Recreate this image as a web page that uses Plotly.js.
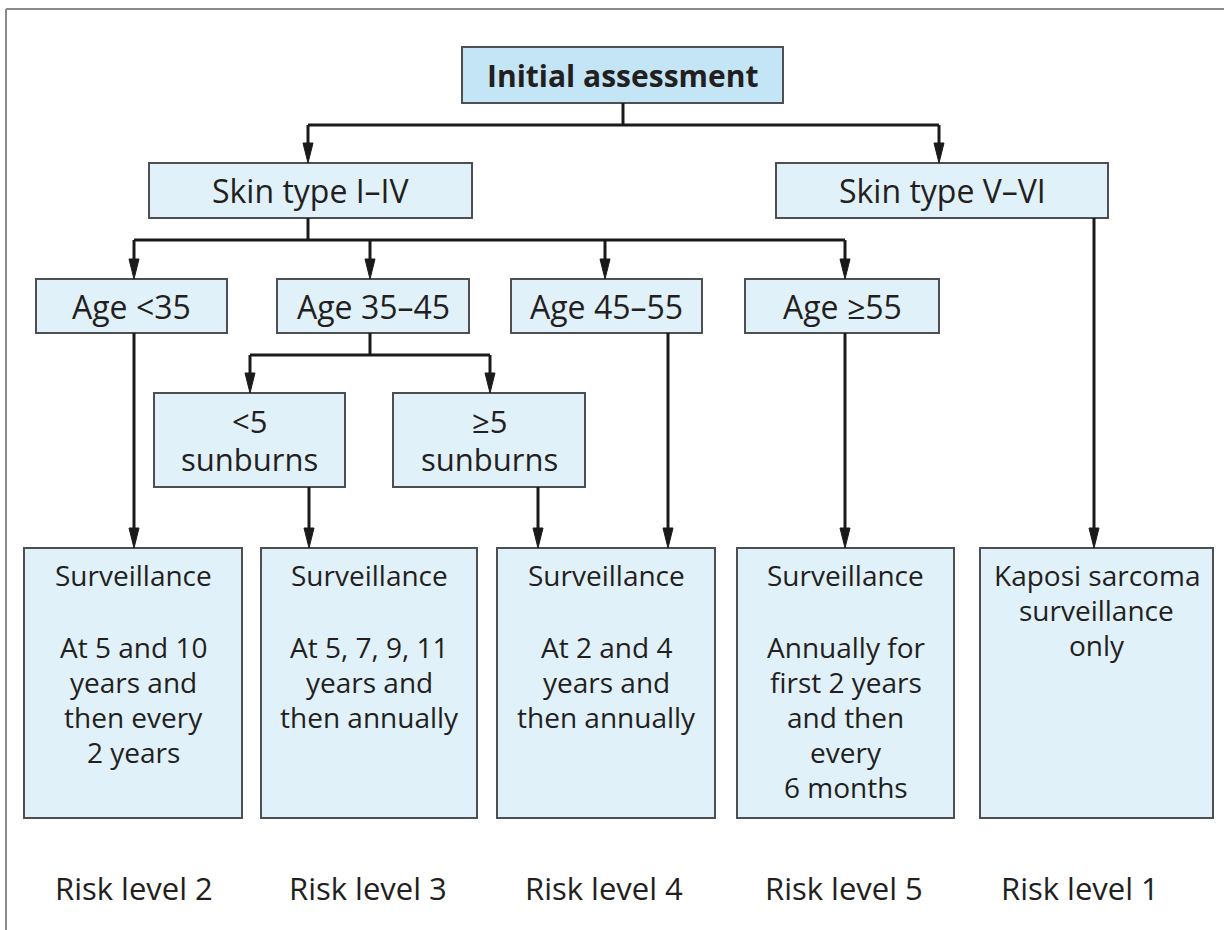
<!DOCTYPE html>
<html>
<head>
<meta charset="utf-8">
<script src="https://cdn.plot.ly/plotly-3.0.1.min.js"></script>
<style>html,body{margin:0;padding:0;background:#fff;}#chart{width:1224px;height:930px;}</style>
</head>
<body>
<div id="chart"></div>
<script>
// ---- content (text of the flowchart) ----
const rootLabel = ["Initial assessment"];
const skinTypes = ["Skin type I–IV", "Skin type V–VI"];
const ageGroups = ["Age <35", "Age 35–45", "Age 45–55", "Age ≥55"];
const sunburnGroups = [["<5", "sunburns"], ["≥5", "sunburns"]];
const outcomeTitles = [["Surveillance"], ["Surveillance"], ["Surveillance"], ["Surveillance"], ["Kaposi sarcoma", "surveillance", "only"]];
const outcomeSchedules = [
  ["At 5 and 10", "years and", "then every", "2 years"],
  ["At 5, 7, 9, 11", "years and", "then annually"],
  ["At 2 and 4", "years and", "then annually"],
  ["Annually for", "first 2 years", "and then", "every", "6 months"],
  []
];
const riskLevels = ["Risk level 2", "Risk level 3", "Risk level 4", "Risk level 5", "Risk level 1"];

// ---- layout geometry (pixel space of the page) ----
const geoRoot = [[462, 783, 47, 103]];
const geoSkin = [[149, 472, 163, 218], [776, 1108, 163, 218]];
const geoAge = [[36, 227, 279, 333], [277, 469, 279, 333], [511, 702, 279, 333], [745, 939, 279, 333]];
const geoSun = [[154, 345, 393, 487], [393, 585, 393, 487]];
const geoOut = [[24, 242, 548, 818], [261, 477, 548, 818], [497, 715, 548, 818], [737, 954, 548, 818], [980, 1213, 548, 818]];
const riskX = [134, 368, 604, 844, 1080];
const riskY = 888;
const forks = [
  {x: 623, y0: 103, yBar: 125, bar: [308, 939], drops: [308, 939], yEnd: 163},
  {x: 308, y0: 218, yBar: 240, bar: [134, 845], drops: [134, 370, 605, 845], yEnd: 279},
  {x: 370, y0: 333, yBar: 355, bar: [250, 490], drops: [250, 490], yEnd: 393}
];
const straights = [[134, 333, 548], [309, 487, 548], [538, 487, 548], [668, 333, 548], [845, 333, 548], [1094, 218, 548]];

const FONT = "Open Sans, Noto Sans, sans-serif";
const TXT = "#231f20";
const LINE = "#1a1a1a";
const BORDER = "#4d4f52";
const FILL = "#e1f1fa";
const FILL_ROOT = "#c4e5f6";
const LH = 35;

const shapes = [];
const annotations = [];

// frame
shapes.push({type: "line", xref: "x", yref: "y", x0: 6, x1: 6, y0: 9, y1: 930, line: {color: "#8a8a8a", width: 2}});
shapes.push({type: "line", xref: "x", yref: "y", x0: 6, x1: 1224, y0: 9, y1: 9, line: {color: "#8a8a8a", width: 2}});

function box(g, fill) {
  shapes.push({type: "rect", xref: "x", yref: "y", x0: g[0], x1: g[1], y0: g[2], y1: g[3],
    fillcolor: fill, line: {color: BORDER, width: 2}, layer: "below"});
}
function text(x, y, t, size, bold) {
  annotations.push({xref: "x", yref: "y", x: x, y: y, text: t, showarrow: false,
    xanchor: "center", yanchor: "middle",
    font: {family: FONT, size: size, color: TXT, weight: bold ? 700 : 400}});
}
function vline(x, y0, y1) {
  shapes.push({type: "line", xref: "x", yref: "y", x0: x, x1: x, y0: y0, y1: y1, line: {color: LINE, width: 3}});
}
function hline(x0, x1, y) {
  shapes.push({type: "line", xref: "x", yref: "y", x0: x0, x1: x1, y0: y, y1: y, line: {color: LINE, width: 3}});
}
function arrow(x, y0, y1) {
  const L = 20, W = 5;
  vline(x, y0, y1 - L + 2);
  shapes.push({type: "path", xref: "x", yref: "y",
    path: `M ${x - W} ${y1 - L} L ${x + W} ${y1 - L} L ${x} ${y1} Z`,
    fillcolor: LINE, line: {color: LINE, width: 1}});
}
function center(g) { return [(g[0] + g[1]) / 2, (g[2] + g[3]) / 2]; }

// boxes + labels
box(geoRoot[0], FILL_ROOT);
text(center(geoRoot[0])[0], center(geoRoot[0])[1], rootLabel[0], 30, true);
skinTypes.forEach((s, i) => { box(geoSkin[i], FILL); text(center(geoSkin[i])[0], center(geoSkin[i])[1], s, 32); });
ageGroups.forEach((s, i) => { box(geoAge[i], FILL); text(center(geoAge[i])[0], center(geoAge[i])[1], s, 32); });
sunburnGroups.forEach((lines, i) => {
  box(geoSun[i], FILL);
  const c = center(geoSun[i]);
  lines.forEach((l, k) => text(c[0], c[1] + (k - (lines.length - 1) / 2) * 38, l, 31));
});
outcomeTitles.forEach((tl, i) => {
  const g = geoOut[i];
  box(g, FILL);
  const cx = (g[0] + g[1]) / 2;
  tl.forEach((l, k) => text(cx, g[2] + 27 + k * LH, l, 28));
  outcomeSchedules[i].forEach((l, k) => text(cx, g[2] + 99 + k * LH, l, 28));
});
riskLevels.forEach((r, i) => text(riskX[i], riskY, r, 31));

// connectors
forks.forEach(f => {
  vline(f.x, f.y0, f.yBar);
  hline(f.bar[0], f.bar[1], f.yBar);
  f.drops.forEach(x => arrow(x, f.yBar, f.yEnd));
});
straights.forEach(s => arrow(s[0], s[1], s[2]));

const layout = {
  width: 1224, height: 930,
  margin: {l: 0, r: 0, t: 0, b: 0},
  paper_bgcolor: "#ffffff", plot_bgcolor: "#ffffff",
  xaxis: {range: [0, 1224], visible: false, fixedrange: true},
  yaxis: {range: [930, 0], visible: false, fixedrange: true},
  showlegend: false,
  shapes: shapes,
  annotations: annotations
};
Plotly.newPlot("chart", [], layout, {displayModeBar: false, staticPlot: true});
</script>
</body>
</html>
